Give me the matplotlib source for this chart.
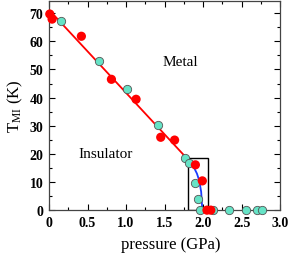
import matplotlib
matplotlib.use("Agg")
import matplotlib.pyplot as plt
from matplotlib.patches import Rectangle
from matplotlib.ticker import MultipleLocator

plt.rcParams["font.family"] = ["Liberation Serif", "DejaVu Serif"]
plt.rcParams["mathtext.fontset"] = "custom"
plt.rcParams["mathtext.rm"] = "Liberation Serif"
plt.rcParams["mathtext.it"] = "Liberation Serif:italic"

# red filled circles
red_p = [0.01, 0.04, 0.42, 0.81, 1.13, 1.45, 1.63, 1.90, 1.99, 2.05, 2.10]
red_T = [69.7, 67.9, 61.8, 46.5, 39.4, 25.9, 24.9, 16.1, 10.4, 0.0, 0.0]

# cyan open circles
cyan_p = [0.16, 0.65, 1.01, 1.42, 1.76, 1.82, 1.90, 1.94, 1.96, 2.13, 2.34, 2.56, 2.70, 2.76]
cyan_T = [67.1, 52.9, 42.9, 30.3, 18.6, 16.7, 9.7, 4.0, 0.0, 0.0, 0.0, 0.0, 0.0, 0.0]

# linear fit (red) and critical curve (blue)
line_p = [0.0, 1.82]
line_T = [71.2, 17.5]
blue_p = [1.79, 1.84, 1.88, 1.92, 1.95, 1.975, 1.99]
blue_T = [18.0, 16.6, 15.2, 13.0, 10.5, 6.5, 0.0]

# box around critical region
box_p = [1.80, 2.07]
box_T = [0.0, 18.7]

fig = plt.figure(figsize=(2.9, 2.55), dpi=100)
ax = fig.add_axes([0.169, 0.172, 0.797, 0.822])

ax.plot(line_p, line_T, color="#ff0000", lw=1.3, zorder=2)
ax.plot(blue_p, blue_T, color="#1a3cff", lw=1.3, zorder=2)
ax.add_patch(Rectangle((box_p[0], box_T[0]), box_p[1] - box_p[0], box_T[1] - box_T[0],
                       fill=False, ec="black", lw=1.0, zorder=1))
ax.scatter(cyan_p, cyan_T, s=36, c="#66e3c6", edgecolors="#555555", linewidths=0.6,
           zorder=3, clip_on=False)
ax.scatter(red_p, red_T, s=44, c="#ff0000", edgecolors="none", zorder=4, clip_on=False)

ax.text(1.71, 53, "Metal", ha="center", va="center", fontsize=11)
ax.text(0.74, 20, "Insulator", ha="center", va="center", fontsize=11)

ax.set_xlim(0, 3.0)
ax.set_ylim(0, 74.5)
ax.xaxis.set_major_locator(MultipleLocator(0.5))
ax.xaxis.set_minor_locator(MultipleLocator(0.25))
ax.yaxis.set_major_locator(MultipleLocator(10))
ax.yaxis.set_minor_locator(MultipleLocator(5))
ax.set_xticks([0, 0.5, 1.0, 1.5, 2.0, 2.5, 3.0])
ax.set_xticklabels(["0", "0.5", "1.0", "1.5", "2.0", "2.5", "3.0"])
ax.tick_params(which="both", direction="in", top=True, right=True, width=0.8)
ax.tick_params(which="major", length=4, labelsize=10, pad=4)
ax.tick_params(which="minor", length=2)
for lab in ax.get_xticklabels() + ax.get_yticklabels():
    lab.set_fontweight("bold")
for s in ax.spines.values():
    s.set_linewidth(0.9)
    s.set_color("#444444")

ax.set_xlabel("pressure (GPa)", fontsize=12, labelpad=5, x=0.528)
ax.set_ylabel(r"T$_{\rm MI}$ (K)", fontsize=12, labelpad=3)

fig.savefig("out.png", dpi=100)
